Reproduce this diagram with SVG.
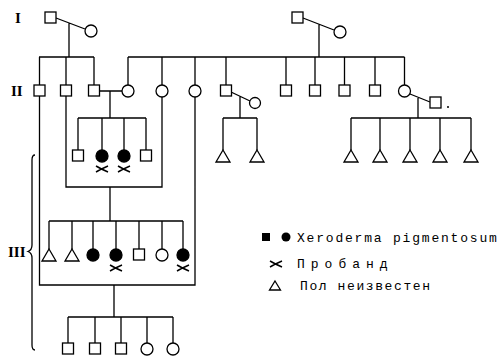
<svg xmlns="http://www.w3.org/2000/svg" width="501" height="356" viewBox="0 0 501 356">
<defs>
<style>
.l{stroke:#000;stroke-width:1.3;fill:none}
.o{stroke:#000;stroke-width:1.3;fill:#fff}
.f{stroke:#000;stroke-width:1.3;fill:#000}
.g{font-family:"Liberation Serif",serif;font-weight:bold;font-size:15px;fill:#000}
.t{font-family:"Liberation Mono",monospace;font-size:13px;fill:#000}
</style>
<path id="px" d="M-6,-3 Q-1,0 6,3 M-6,3 Q-1,0 6,-3" stroke="#000" stroke-width="1.5" fill="none"/>
<path id="tri" d="M0,0 L7,12 L-7,12 Z" stroke="#000" stroke-width="1.3" fill="#fff"/>
</defs>
<rect width="501" height="356" fill="#fff"/>
<g id="labels">
<text class="g" x="15" y="23">I</text>
<text class="g" x="11" y="96">II</text>
<text class="g" x="8" y="257">III</text>
<path class="l" d="M35,155 Q32,155 32,160 L32,245 Q32,250 28,251.5 Q32,253 32,258 L32,345 Q32,350 35,350"/>
</g>
<g id="connectors" class="l">
<path d="M56,18 L85,29 M69,23 V57 M39,57 H94 M39.5,57 V85 M66,57 V85 M94,57 V85"/>
<path d="M303,18 L334,30 M319,24 V57 M128,57 H404.5"/>
<path d="M128,57 V85 M162,57 V85 M195,57 V85 M226,57 V85 M286,57 V85 M315,57 V85 M344.5,57 V85 M375,57 V85 M404.5,57 V85"/>
<path d="M99.5,91 H122 M110,91 V118 M78,118 H146 M78,118 V150 M102,118 V150 M124,118 V150 M146,118 V150"/>
<path d="M39.5,96 V285 H195 V97 M66,96 V187 H162 V97"/>
<path d="M231,92 L250,101 M240,96.5 V118 M223,118 H257 M223,118 V150 M257,118 V150"/>
<path d="M410,94 L430,102 M418,98 V118 M351,118 H471 M351,118 V150 M380,118 V150 M410,118 V150 M440,118 V150 M471,118 V150"/>
<path d="M110,187 V221 M49,221 H183 M49,221 V249 M72,221 V249 M93,221 V249 M116,221 V249 M139,221 V249 M162,221 V249 M183,221 V249"/>
<path d="M114,285 V317 M68,317 H173 M68,317 V343 M95,317 V343 M121,317 V343 M147,317 V343 M173,317 V343"/>
</g>
<g id="gen1">
<g id="I1"><rect class="o" x="45" y="12" width="11" height="11"/></g>
<g id="I2"><circle class="o" cx="91" cy="31" r="6"/></g>
<g id="I3"><rect class="o" x="292" y="12" width="11" height="11"/></g>
<g id="I4"><circle class="o" cx="340" cy="32" r="6"/></g>
</g>
<g id="gen2">
<g id="II1"><rect class="o" x="34" y="85" width="11" height="11"/></g>
<g id="II2"><rect class="o" x="60.5" y="85" width="11" height="11"/></g>
<g id="II3"><rect class="o" x="88.5" y="85" width="11" height="11"/></g>
<g id="II4"><circle class="o" cx="128" cy="91" r="6"/></g>
<g id="II5"><circle class="o" cx="162" cy="91" r="6"/></g>
<g id="II6"><circle class="o" cx="195" cy="91" r="6"/></g>
<g id="II7"><rect class="o" x="220.5" y="85" width="11" height="11"/></g>
<g id="II7w"><circle class="o" cx="255" cy="103" r="5.5"/></g>
<g id="II8"><rect class="o" x="280.5" y="85" width="11" height="11"/></g>
<g id="II9"><rect class="o" x="309.5" y="85" width="11" height="11"/></g>
<g id="II10"><rect class="o" x="339" y="85" width="11" height="11"/></g>
<g id="II11"><rect class="o" x="369.5" y="85" width="11" height="11"/></g>
<g id="II12"><circle class="o" cx="404.5" cy="91" r="6"/></g>
<g id="II12h"><rect class="o" x="430" y="97" width="11" height="11"/><circle cx="448" cy="107" r="1" fill="#000"/></g>
</g>
<g id="gen3a">
<g id="IIIa1"><rect class="o" x="72.5" y="150" width="11" height="11"/></g>
<g id="IIIa2"><circle class="f" cx="102" cy="156" r="6"/><use href="#px" x="102" y="169"/></g>
<g id="IIIa3"><circle class="f" cx="124" cy="156" r="6"/><use href="#px" x="124" y="169"/></g>
<g id="IIIa4"><rect class="o" x="140.5" y="150" width="11" height="11"/></g>
<g id="IIIb1"><use href="#tri" x="223" y="150"/></g>
<g id="IIIb2"><use href="#tri" x="257" y="150"/></g>
<g id="IIIc1"><use href="#tri" x="351" y="150"/></g>
<g id="IIIc2"><use href="#tri" x="380" y="150"/></g>
<g id="IIIc3"><use href="#tri" x="410" y="150"/></g>
<g id="IIIc4"><use href="#tri" x="440" y="150"/></g>
<g id="IIIc5"><use href="#tri" x="471" y="150"/></g>
</g>
<g id="gen3b">
<g id="IIId1"><use href="#tri" x="49" y="249"/></g>
<g id="IIId2"><use href="#tri" x="72" y="249"/></g>
<g id="IIId3"><circle class="f" cx="93" cy="255" r="6"/></g>
<g id="IIId4"><circle class="f" cx="116" cy="255" r="6"/><use href="#px" x="116" y="268"/></g>
<g id="IIId5"><rect class="o" x="133.5" y="249" width="11" height="11"/></g>
<g id="IIId6"><circle class="o" cx="162" cy="255" r="6"/></g>
<g id="IIId7"><circle class="f" cx="183" cy="255" r="6"/><use href="#px" x="183" y="268"/></g>
</g>
<g id="gen4">
<g id="IV1"><rect class="o" x="62.5" y="343" width="11" height="11"/></g>
<g id="IV2"><rect class="o" x="89.5" y="343" width="11" height="11"/></g>
<g id="IV3"><rect class="o" x="115.5" y="343" width="11" height="11"/></g>
<g id="IV4"><circle class="o" cx="147" cy="349" r="6"/></g>
<g id="IV5"><circle class="o" cx="173" cy="349" r="6"/></g>
</g>
<g id="legend">
<rect x="262" y="233" width="8" height="8" fill="#000"/>
<circle cx="286" cy="237" r="4.5" fill="#000"/>
<text class="t" x="297" y="241.5" letter-spacing="1.8">Xeroderma pigmentosum</text>
<use href="#px" x="276" y="264"/>
<text class="t" x="297" y="268" font-size="12" letter-spacing="6">Пробанд</text>
<path d="M275,281 L280.5,290 L269.5,290 Z" stroke="#000" stroke-width="1.3" fill="#fff"/>
<text class="t" x="300" y="290" font-size="12" letter-spacing="1.6">Пол неизвестен</text>
</g>
</svg>
